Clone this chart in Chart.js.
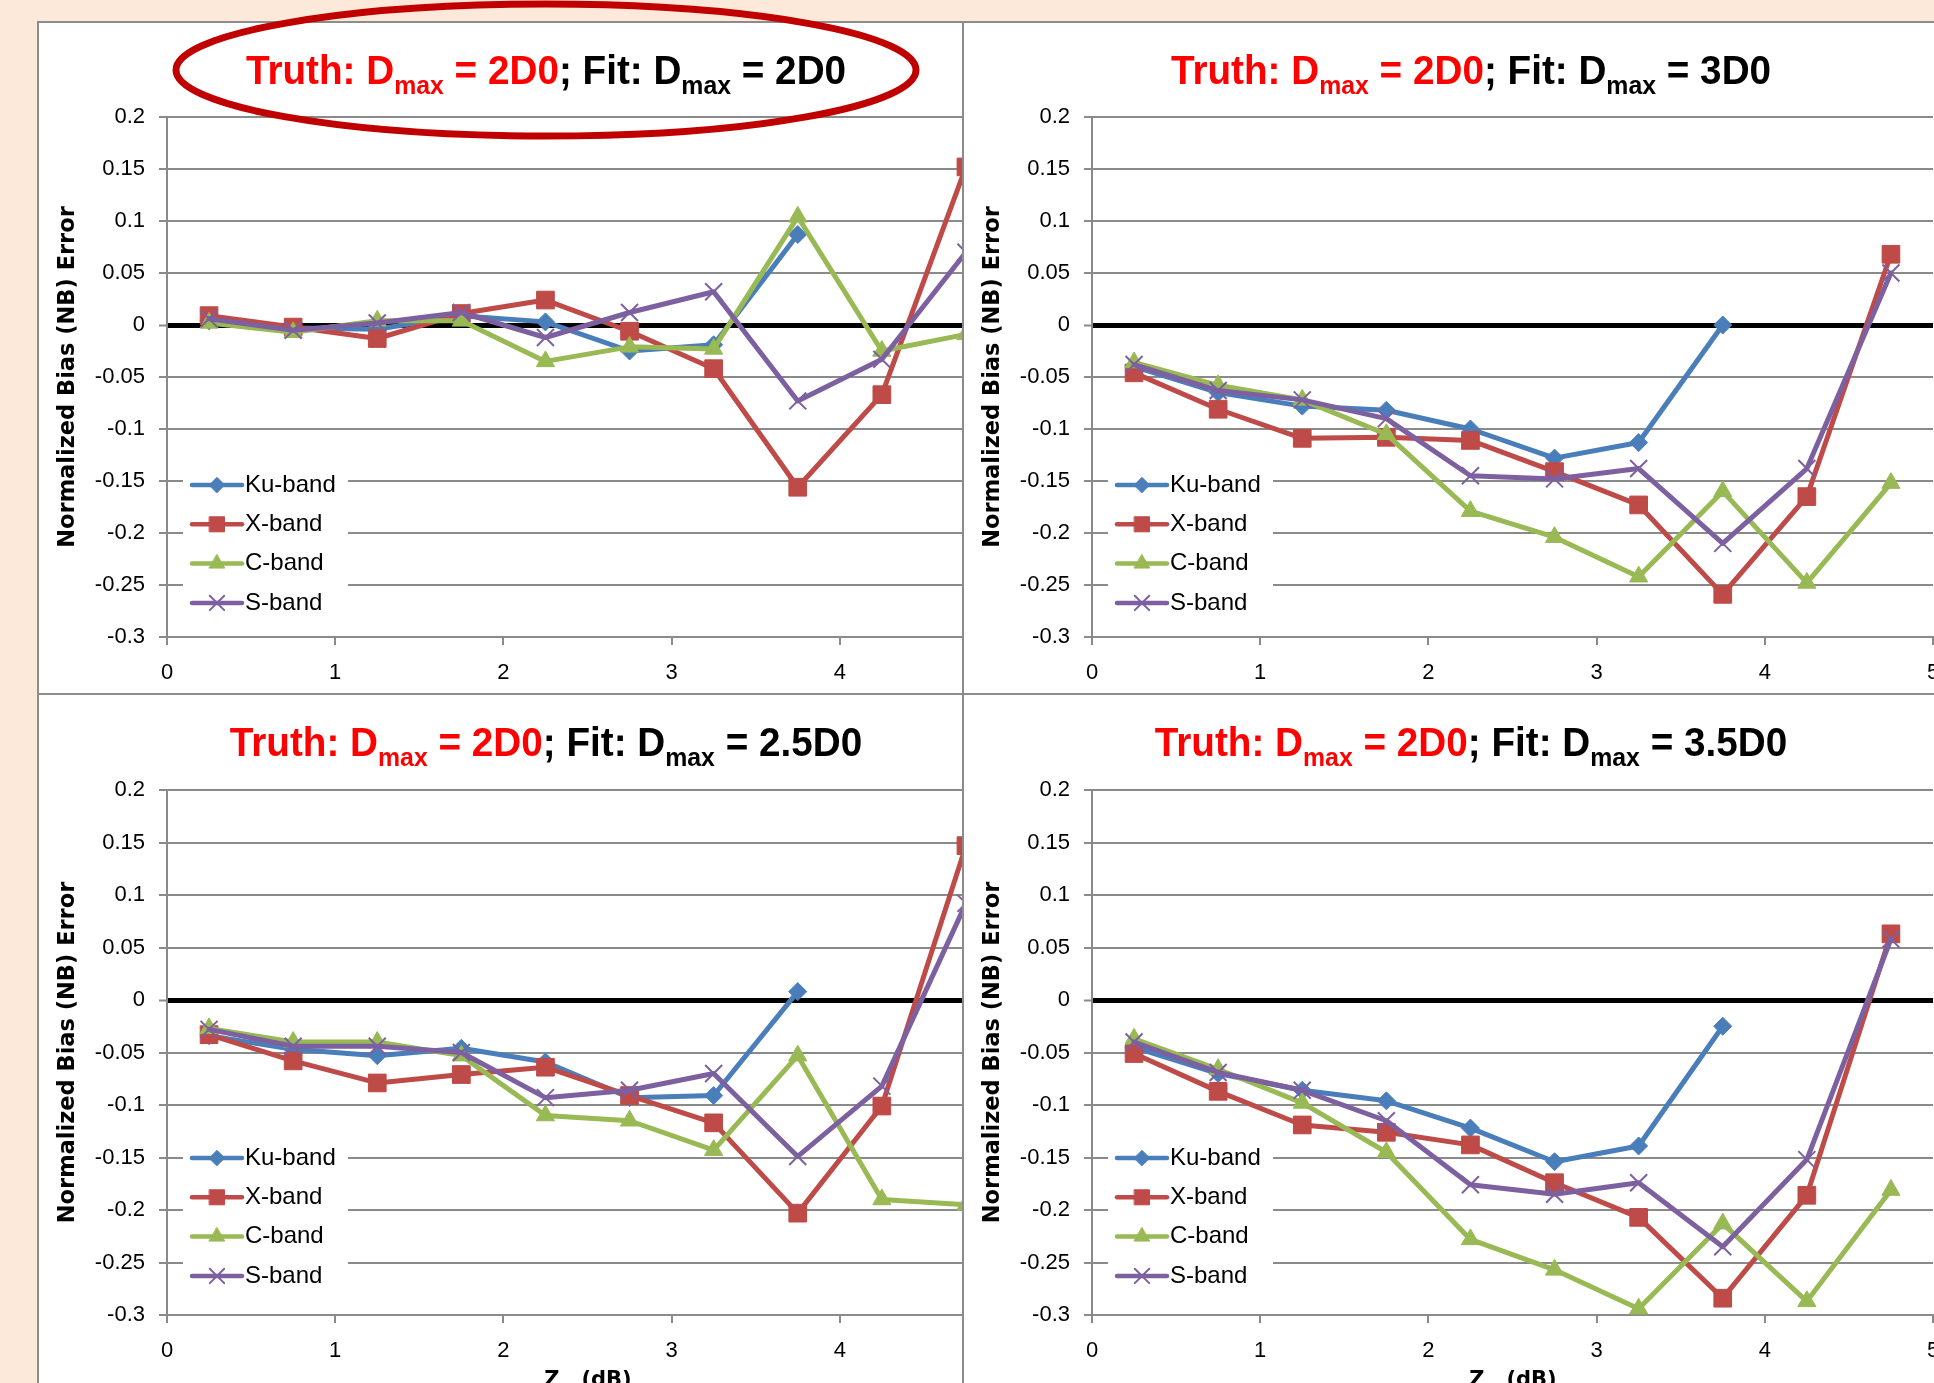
<!DOCTYPE html>
<html>
<head>
<meta charset="utf-8">
<script src="https://cdn.jsdelivr.net/npm/chart.js@4.4.1/dist/chart.umd.min.js"></script>
<style>
  html, body { margin: 0; padding: 0; width: 1934px; height: 1383px; overflow: hidden; background: #FDE9D9; }
  .panel { position: absolute; overflow: hidden; background: #fff; }
  .panel::after { content: ''; position: absolute; left: 0; top: 0; right: 0; bottom: 0; border: 2px solid #8c8c8c; pointer-events: none; }
  .panel canvas { position: absolute; left: 0; top: 0; }
  .title { position: absolute; left: 509px; top: 29px; transform: translateX(-50%) scaleX(0.955); white-space: nowrap;
           font: bold 40.5px/40px 'Liberation Sans', Arial, sans-serif; color: #000; }
  .title .truth { color: #ff0000; }
  .title sub { font-size: 26px; vertical-align: baseline; position: relative; top: 10px; }
  .xtitle { position: absolute; left: 551px; top: 676px; transform: translateX(-50%); white-space: nowrap;
            font: bold 21px/21px 'DejaVu Sans', sans-serif; color: #000; }
  .xtitle sub { font-size: 14px; vertical-align: baseline; position: relative; top: 6px; }
  #ring { position: absolute; left: 0; top: 0; pointer-events: none; }
</style>
</head>
<body>

<div class="panel" id="p1" style="left:37px; top:21px; width:928px; height:674px;">
  <canvas id="c1" width="1017" height="674"></canvas>
  <div class="title"><span class="truth">Truth: D<sub>max</sub> = 2D0</span>; Fit: D<sub>max</sub> = 2D0</div>
</div>
<div class="panel" id="p2" style="left:962px; top:21px; width:1017px; height:674px;">
  <canvas id="c2" width="1017" height="674"></canvas>
  <div class="title"><span class="truth">Truth: D<sub>max</sub> = 2D0</span>; Fit: D<sub>max</sub> = 3D0</div>
</div>
<div class="panel" id="p3" style="left:37px; top:693px; width:928px; height:702px;">
  <canvas id="c3" width="1017" height="702"></canvas>
  <div class="title"><span class="truth">Truth: D<sub>max</sub> = 2D0</span>; Fit: D<sub>max</sub> = 2.5D0</div>
  <div class="xtitle">Z<sub>m</sub> (dB)</div>
</div>
<div class="panel" id="p4" style="left:962px; top:693px; width:1017px; height:702px;">
  <canvas id="c4" width="1017" height="702"></canvas>
  <div class="title"><span class="truth">Truth: D<sub>max</sub> = 2D0</span>; Fit: D<sub>max</sub> = 3.5D0</div>
  <div class="xtitle">Z<sub>m</sub> (dB)</div>
</div>

<svg id="ring" width="1934" height="1383">
  <ellipse cx="546" cy="70" rx="370" ry="66" fill="none" stroke="#C00000" stroke-width="7"/>
</svg>

<script>
// Zm bin centres (dB)
const zm = [0.25, 0.75, 1.25, 1.75, 2.25, 2.75, 3.25, 3.75, 4.25, 4.75];
const xTicks = [0, 1, 2, 3, 4, 5];
const yTicks = [0.2, 0.15, 0.1, 0.05, 0, -0.05, -0.1, -0.15, -0.2, -0.25, -0.3];
const bandNames = ['Ku-band', 'X-band', 'C-band', 'S-band'];

// Fit Dmax = 2D0
const ku2D0 = [0.004, -0.003, -0.004, 0.009, 0.003, -0.025, -0.019, 0.087];
const x2D0 = [0.009, -0.002, -0.013, 0.011, 0.024, -0.006, -0.042, -0.156, -0.067, 0.152];
const c2D0 = [0.002, -0.007, 0.004, 0.004, -0.035, -0.021, -0.023, 0.104, -0.025, -0.009];
const s2D0 = [0.006, -0.005, 0.002, 0.012, -0.012, 0.012, 0.032, -0.073, -0.033, 0.07];

// Fit Dmax = 3D0
const ku3D0 = [-0.04, -0.065, -0.078, -0.082, -0.1, -0.128, -0.113, 0.0];
const x3D0 = [-0.046, -0.081, -0.109, -0.108, -0.111, -0.141, -0.173, -0.259, -0.165, 0.068];
const c3D0 = [-0.036, -0.058, -0.072, -0.105, -0.179, -0.204, -0.242, -0.16, -0.248, -0.152];
const s3D0 = [-0.038, -0.063, -0.072, -0.09, -0.145, -0.148, -0.138, -0.21, -0.138, 0.05];

// Fit Dmax = 2.5D0
const ku25D0 = [-0.034, -0.047, -0.053, -0.046, -0.059, -0.093, -0.091, 0.008];
const x25D0 = [-0.033, -0.058, -0.079, -0.071, -0.064, -0.091, -0.117, -0.203, -0.101, 0.147];
const c25D0 = [-0.027, -0.04, -0.04, -0.053, -0.11, -0.115, -0.143, -0.053, -0.19, -0.195];
const s25D0 = [-0.028, -0.044, -0.044, -0.05, -0.093, -0.086, -0.07, -0.149, -0.082, 0.092];

// Fit Dmax = 3.5D0
const ku35D0 = [-0.045, -0.07, -0.086, -0.096, -0.122, -0.154, -0.139, -0.025];
const x35D0 = [-0.051, -0.087, -0.119, -0.126, -0.138, -0.174, -0.207, -0.284, -0.186, 0.063];
const c35D0 = [-0.037, -0.066, -0.098, -0.145, -0.228, -0.257, -0.294, -0.213, -0.287, -0.181];
const s35D0 = [-0.04, -0.069, -0.086, -0.115, -0.176, -0.185, -0.174, -0.235, -0.152, 0.058];

const GRID = '#8a8a8a';
const styles = [
  { color: '#4A7EBB', pointStyle: 'rectRot', pointRadius: 9, pointBorderWidth: 1 },
  { color: '#BE4B48', pointStyle: 'rect', pointRadius: 12.5, pointBorderWidth: 1 },
  { color: '#98B954', pointStyle: 'triangle', pointRadius: 10.5, pointBorderWidth: 1 },
  { color: '#7D60A0', pointStyle: 'crossRot', pointRadius: 12, pointBorderWidth: 2 },
];

function bandSets(series) {
  return series.map((vals, i) => {
    const s = styles[i];
    return {
      label: bandNames[i],
      data: vals.map((v, k) => ({ x: zm[k], y: v })),
      borderColor: s.color,
      backgroundColor: s.color,
      pointBackgroundColor: s.color,
      pointBorderColor: s.color,
      pointStyle: s.pointStyle,
      pointRadius: s.pointRadius,
      pointBorderWidth: s.pointBorderWidth,
      borderWidth: 5,
      borderJoinStyle: 'round',
      borderCapStyle: 'round',
      tension: 0,
      clip: false,
      order: 4 - i,
    };
  });
}

// legend drawn inside the plot area on a white box
const bandLegend = {
  id: 'bandLegend',
  afterDatasetsDraw(chart) {
    const { ctx, chartArea } = chart;
    const x0 = chartArea.left, y0 = chartArea.top;
    ctx.save();
    ctx.fillStyle = '#fff';
    ctx.fillRect(x0 + 16, y0 + 343, 165, 165);
    chart.data.datasets.forEach((ds, i) => {
      const y = y0 + 368 + i * 39.3;
      ctx.strokeStyle = ds.borderColor;
      ctx.lineWidth = 4.5;
      ctx.lineCap = 'round';
      ctx.beginPath();
      ctx.moveTo(x0 + 25, y);
      ctx.lineTo(x0 + 75, y);
      ctx.stroke();
      ctx.fillStyle = ds.pointBackgroundColor;
      ctx.strokeStyle = ds.pointBorderColor;
      ctx.lineWidth = ds.pointBorderWidth;
      Chart.helpers.drawPoint(ctx, {
        pointStyle: ds.pointStyle, radius: ds.pointRadius * 0.85, rotation: 0, borderWidth: ds.pointBorderWidth
      }, x0 + 50, y);
      ctx.fillStyle = '#000';
      ctx.font = '24px "Liberation Sans", Arial, sans-serif';
      ctx.textBaseline = 'middle';
      ctx.textAlign = 'left';
      ctx.fillText(ds.label, x0 + 78, y);
    });
    ctx.restore();
  }
};

function makeChart(id, series, top, xHeight) {
  return new Chart(document.getElementById(id), {
    type: 'line',
    data: { datasets: bandSets(series) },
    plugins: [bandLegend],
    options: {
      responsive: false,
      animation: false,
      devicePixelRatio: 1,
      layout: { padding: { left: 0, top: top, right: 46, bottom: 0 } },
      plugins: { legend: { display: false }, tooltip: { enabled: false } },
      scales: {
        x: {
          type: 'linear',
          min: 0, max: 5,
          afterBuildTicks: (axis) => { axis.ticks = xTicks.map((v) => ({ value: v })); },
          afterFit: (axis) => { axis.height = xHeight; },
          ticks: { color: '#000', padding: 15, font: { family: 'Liberation Sans', size: 22 } },
          grid: { drawOnChartArea: false, drawTicks: true, tickLength: 8, color: GRID, lineWidth: 2 },
          border: { display: true, color: GRID, width: 2 },
        },
        y: {
          min: -0.3, max: 0.2,
          afterBuildTicks: (axis) => { axis.ticks = yTicks.map((v) => ({ value: v })); },
          afterFit: (axis) => { axis.width = 130; },
          ticks: {
            color: '#000', padding: 14,
            font: { family: 'Liberation Sans', size: 22 },
            callback: (v) => String(Math.round(v * 100) / 100),
          },
          grid: {
            color: (c) => (c.tick && c.tick.value === 0 ? '#000' : GRID),
            lineWidth: (c) => (c.tick && c.tick.value === 0 ? 5 : 2),
            tickColor: GRID, tickWidth: 2, tickLength: 8,
          },
          border: { display: true, color: GRID, width: 2 },
          title: {
            display: true,
            text: 'Normalized Bias (NB) Error',
            color: '#000',
            font: { family: 'DejaVu Sans', weight: 'bold', size: 22.5, lineHeight: 1.2 },
            padding: { top: 18, bottom: 0 },
          },
        },
      },
    },
  });
}

makeChart('c1', [ku2D0, x2D0, c2D0, s2D0], 96, 58);
makeChart('c2', [ku3D0, x3D0, c3D0, s3D0], 96, 58);
makeChart('c3', [ku25D0, x25D0, c25D0, s25D0], 97, 80);
makeChart('c4', [ku35D0, x35D0, c35D0, s35D0], 97, 80);
</script>
</body>
</html>
